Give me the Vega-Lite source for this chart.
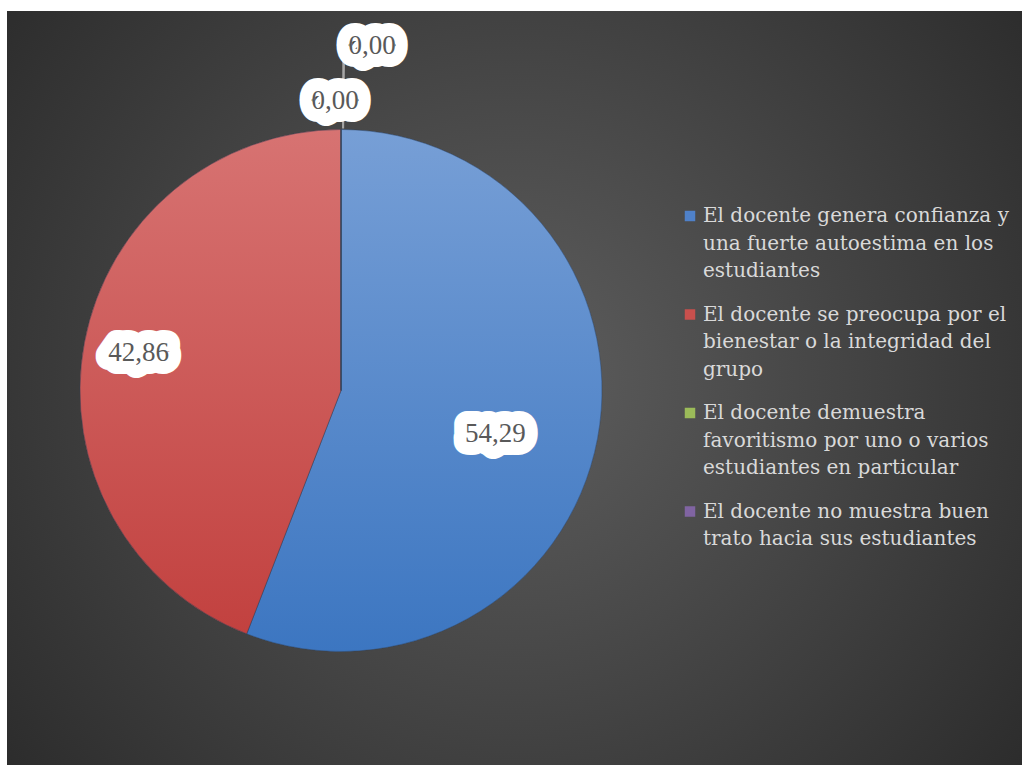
{
  "$schema": "https://vega.github.io/schema/vega-lite/v6.json",
  "autosize": {"type": "fit", "contains": "padding"},
  "width": 1022,
  "height": 765,
  "padding": {"left": 7, "top": 11, "right": 0, "bottom": 0},
  "background": "#ffffff",
  "config": {
    "locale": {"number": {"decimal": ",", "thousands": ".", "grouping": [3], "currency": ["", " €"]}},
    "view": {
      "stroke": null,
      "fill": {"gradient": "radial", "x1": 0.5, "y1": 0.49, "r1": 0, "x2": 0.5, "y2": 0.49, "r2": 0.72,
        "stops": [{"offset": 0, "color": "#5e5e5e"}, {"offset": 1, "color": "#252525"}]}
    },
    "style": {"guide-label": {"lineHeight": 27.5}}
  },
  "data": {
    "values": [
      {"idx": 1, "categoria": "El docente genera confianza y una fuerte autoestima en los estudiantes", "value": 54.29},
      {"idx": 2, "categoria": "El docente se preocupa por el bienestar o la integridad del grupo", "value": 42.86},
      {"idx": 3, "categoria": "El docente demuestra favoritismo por uno o varios estudiantes en particular", "value": 0},
      {"idx": 4, "categoria": "El docente no muestra buen trato hacia sus estudiantes", "value": 0}
    ]
  },
  "layer": [
    {
      "mark": {"type": "arc", "radius": 261},
      "encoding": {
        "x": {"value": 334},
        "y": {"value": 379.5},
        "theta": {"field": "value", "type": "quantitative", "stack": true},
        "order": {"field": "idx", "type": "quantitative"},
        "color": {
          "field": "categoria",
          "type": "nominal",
          "scale": {
            "domain": [
              "El docente genera confianza y una fuerte autoestima en los estudiantes",
              "El docente se preocupa por el bienestar o la integridad del grupo",
              "El docente demuestra favoritismo por uno o varios estudiantes en particular",
              "El docente no muestra buen trato hacia sus estudiantes"
            ],
            "range": ["#4f81c9", "#c9504d", "#9bbb59", "#8064a2"]
          },
          "legend": {
            "title": null,
            "orient": "none",
            "legendX": 673,
            "legendY": 195,
            "symbolType": "square",
            "symbolSize": 110,
            "symbolStrokeWidth": 0,
            "labelFont": "DejaVu Serif",
            "labelFontSize": 20,
            "labelColor": "#d9d9d9",
            "labelLimit": 400,
            "labelOffset": 3,
            "labelBaseline": "middle",
            "rowPadding": 23.5,
            "labelExpr": "indexof(datum.label,'genera')>0 ? ['El docente genera confianza y','una fuerte autoestima en los','estudiantes'] : indexof(datum.label,'preocupa')>0 ? ['El docente se preocupa por el','bienestar o la integridad del','grupo'] : indexof(datum.label,'favoritismo')>0 ? ['El docente demuestra','favoritismo por uno o varios','estudiantes en particular'] : ['El docente no muestra buen','trato hacia sus estudiantes']"
          }
        }
      }
    },
    {
      "mark": {
        "type": "arc",
        "radius": 261,
        "stroke": "#2e3f57",
        "strokeWidth": 0.8,
        "strokeOpacity": 0.6,
        "fill": {"expr": "datum.idx == 1 ? {gradient: 'linear', x1: 0, y1: 0, x2: 0, y2: 1, stops: [{offset: 0, color: '#779fd6'}, {offset: 1, color: '#3c76c1'}]} : {gradient: 'linear', x1: 0, y1: 0, x2: 0, y2: 1, stops: [{offset: 0, color: '#d77372'}, {offset: 1, color: '#c2413f'}]}"}
      },
      "encoding": {
        "x": {"value": 334},
        "y": {"value": 379.5},
        "theta": {"field": "value", "type": "quantitative", "stack": true},
        "order": {"field": "idx", "type": "quantitative"}
      }
    },
    {
      "transform": [{"filter": "datum.idx == 3"}],
      "mark": {"type": "arc", "theta": 0.004, "theta2": 0.012, "radius": 262, "radius2": 330, "fill": "#a6a6a6"},
      "encoding": {"x": {"value": 334}, "y": {"value": 379.5}}
    },
    {
      "mark": {
        "type": "text",
        "font": "Liberation Serif",
        "fontSize": 27,
        "align": "center",
        "baseline": "middle",
        "fill": "#ffffff",
        "stroke": "#ffffff",
        "strokeWidth": 26,
        "strokeJoin": "round",
        "radius": {"expr": "datum.idx == 1 ? 160 : datum.idx == 2 ? 206 : datum.idx == 3 ? 290 : 345"},
        "dx": {"expr": "datum.idx == 1 ? -3 : datum.idx == 3 ? -6 : datum.idx == 4 ? 31 : 0"},
        "dy": {"expr": "datum.idx == 1 ? 14 : 0"}
      },
      "encoding": {
        "x": {"value": 334},
        "y": {"value": 379.5},
        "theta": {"field": "value", "type": "quantitative", "stack": true},
        "order": {"field": "idx", "type": "quantitative"},
        "text": {"field": "value", "type": "quantitative", "format": ".2f"}
      }
    },
    {
      "mark": {
        "type": "text",
        "font": "Liberation Serif",
        "fontSize": 27,
        "align": "center",
        "baseline": "middle",
        "fill": "#595959",
        "radius": {"expr": "datum.idx == 1 ? 160 : datum.idx == 2 ? 206 : datum.idx == 3 ? 290 : 345"},
        "dx": {"expr": "datum.idx == 1 ? -3 : datum.idx == 3 ? -6 : datum.idx == 4 ? 31 : 0"},
        "dy": {"expr": "datum.idx == 1 ? 14 : 0"}
      },
      "encoding": {
        "x": {"value": 334},
        "y": {"value": 379.5},
        "theta": {"field": "value", "type": "quantitative", "stack": true},
        "order": {"field": "idx", "type": "quantitative"},
        "text": {"field": "value", "type": "quantitative", "format": ".2f"}
      }
    }
  ]
}
